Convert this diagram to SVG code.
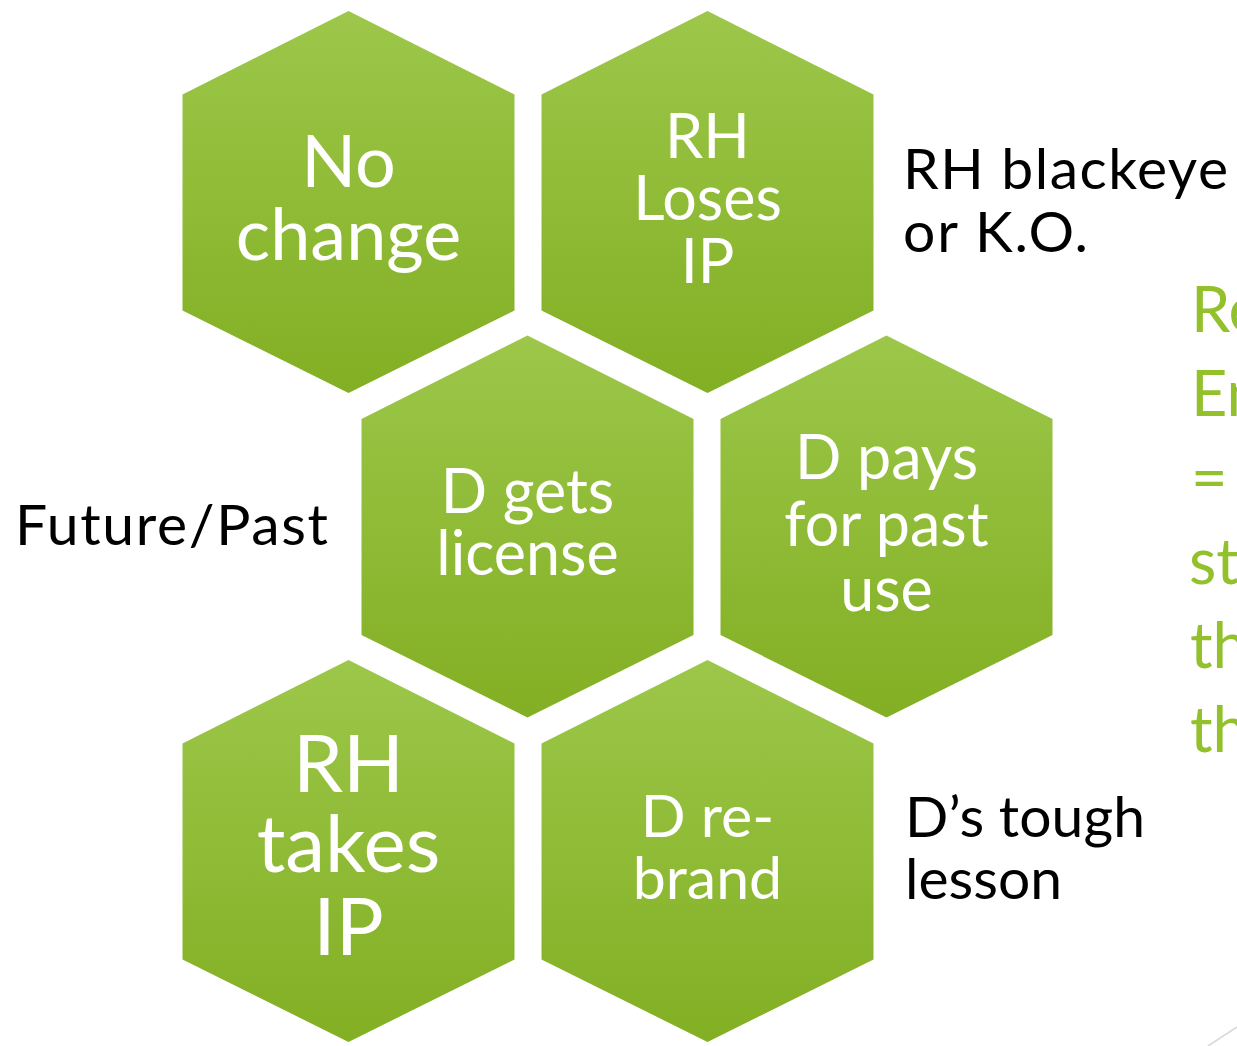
<svg xmlns="http://www.w3.org/2000/svg" width="1237" height="1046" viewBox="0 0 1237 1046">
  <defs>
    <linearGradient id="hexFill" x1="0" y1="0" x2="0" y2="1">
      <stop offset="0" stop-color="#9cc74a"/>
      <stop offset="1" stop-color="#82af23"/>
    </linearGradient>
    <!-- pointy-top hexagon, origin at the top vertex -->
    <polygon id="hex" points="0,0 166,83.5 166,299.5 0,382 -166,299.5 -166,83.5"/>
    <style>
      .hx { fill: url(#hexFill); }
      .lbl { font-family: Lato, "Open Sans", "Liberation Sans", sans-serif; fill: #ffffff; text-anchor: middle; }
      .note { font-family: Lato, "Open Sans", "Liberation Sans", sans-serif; fill: #000000; font-size: 57px; }
      .side { font-family: Lato, "Open Sans", "Liberation Sans", sans-serif; fill: #93c12b; font-size: 63px; }
    </style>
  </defs>
  <rect width="1237" height="1046" fill="#ffffff"/>

  <g id="hex-no-change">
    <use href="#hex" class="hx" x="348.5" y="11"/>
    <text class="lbl" font-size="72" x="348.5" y="187">No</text>
    <text class="lbl" font-size="72" x="348.5" y="260">change</text>
  </g>

  <g id="hex-rh-loses-ip">
    <use href="#hex" class="hx" x="707.5" y="11"/>
    <text class="lbl" font-size="61" x="707.5" y="158">RH</text>
    <text class="lbl" font-size="61" x="707.5" y="220">Loses</text>
    <text class="lbl" font-size="61" x="707.5" y="283">IP</text>
  </g>

  <g id="hex-d-gets-license">
    <use href="#hex" class="hx" x="527.5" y="335.5"/>
    <text class="lbl" font-size="61" x="527.5" y="513">D gets</text>
    <text class="lbl" font-size="61" x="527.5" y="575">license</text>
  </g>

  <g id="hex-d-pays">
    <use href="#hex" class="hx" x="886.5" y="335.5"/>
    <text class="lbl" font-size="61" x="886.5" y="479">D pays</text>
    <text class="lbl" font-size="61" x="886.5" y="546">for past</text>
    <text class="lbl" font-size="61" x="886.5" y="611">use</text>
  </g>

  <g id="hex-rh-takes-ip">
    <use href="#hex" class="hx" x="348.5" y="660"/>
    <text class="lbl" font-size="80" x="348.5" y="792">RH</text>
    <text class="lbl" font-size="80" x="348.5" y="872">takes</text>
    <text class="lbl" font-size="80" x="348.5" y="955">IP</text>
  </g>

  <g id="hex-d-rebrand">
    <use href="#hex" class="hx" x="707.5" y="660"/>
    <text class="lbl" font-size="59" x="707.5" y="837">D re-</text>
    <text class="lbl" font-size="59" x="707.5" y="899">brand</text>
  </g>

  <!-- annotations beside the hexagons -->
  <g id="notes">
    <text class="note" x="903" y="189" textLength="325">RH blackeye</text>
    <text class="note" x="903" y="252" textLength="185">or K.O.</text>
    <text class="note" x="15" y="545" textLength="313">Future/Past</text>
    <text class="note" x="905" y="837" textLength="240">D’s tough</text>
    <text class="note" x="905" y="899" textLength="157">lesson</text>
  </g>

  <!-- green side text running off the right edge -->
  <g id="side-text">
    <text class="side" x="1191" y="332">Re</text>
    <text class="side" x="1191" y="416">En</text>
    <text class="side" x="1191" y="500">=</text>
    <text class="side" x="1189" y="584">st</text>
    <text class="side" x="1190" y="668">th</text>
    <text class="side" x="1190" y="752">th</text>
  </g>

  <g id="connectors">
    <line x1="1208" y1="1046" x2="1237" y2="1027" stroke="#d9d9d9" stroke-width="1.5"/>
  </g>
</svg>
